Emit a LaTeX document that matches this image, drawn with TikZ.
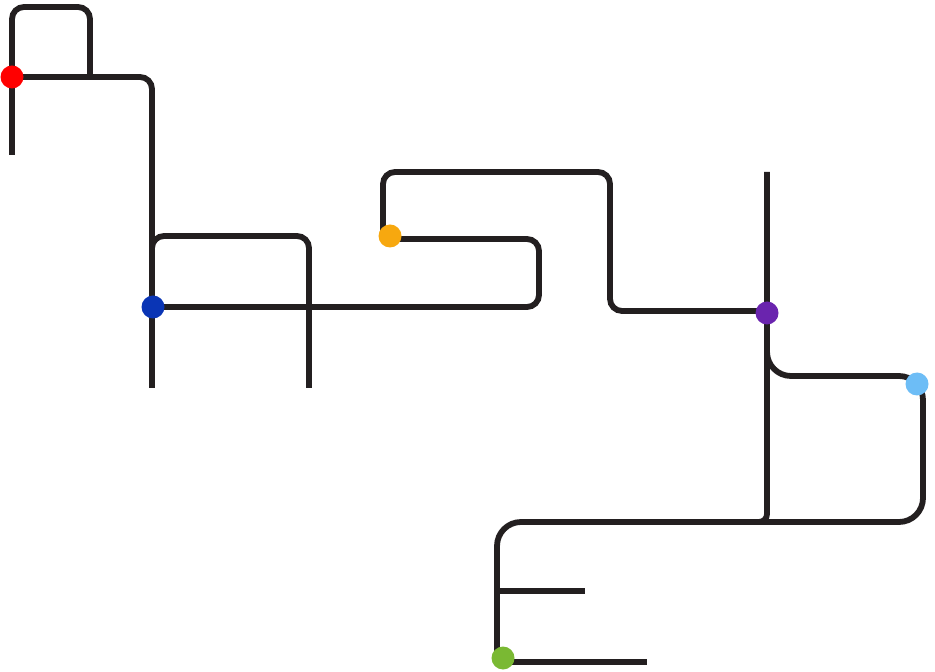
\documentclass[tikz,border=0pt]{standalone}
\usepackage{tikz}
\definecolor{ink}{HTML}{231F20}
\definecolor{stopred}{HTML}{FF0000}
\definecolor{stopblue}{HTML}{0A35B5}
\definecolor{stoporange}{HTML}{F7A80F}
\definecolor{stoppurple}{HTML}{6A24AE}
\definecolor{stopsky}{HTML}{6DBDF6}
\definecolor{stopgreen}{HTML}{7AB933}
\tikzset{
  track/.style={draw=ink, line width=2.9pt, rounded corners=6pt},
  stop/.style={circle, inner sep=0pt, minimum size=11.5pt, draw=none}
}
\begin{document}
\begin{tikzpicture}[x=0.5pt,y=-0.5pt]
  \useasboundingbox (0,0) rectangle (935,672);
  % Top-left loop
  \draw[track] (12,155) -- (12,7) -- (90,7) -- (90,77);
  \draw[track] (12,77) -- (152,77) -- (152,388);
  % Middle arch
  \draw[track] (152,262) -- (152,236) -- (309,236) -- (309,388);
  % S-curve through the centre
  \draw[track] (152,307) -- (539,307) -- (539,239) -- (390,239);
  \draw[track] (383,232) -- (383,172) -- (610,172) -- (610,311) -- (767,311);
  % Right-hand branch
  \draw[track, rounded corners=4pt] (767,172) -- (767,522) -- (745,522);
  \draw[track, rounded corners=12pt] (767,350) -- (767,376) -- (923,376)
    -- (923,522) -- (497,522) -- (497,660);
  \draw[track] (497,591) -- (585,591);
  \draw[track] (503,662) -- (647,662);
  % Stops
  \node[stop, fill=stopred] (red) at (12,77) {};
  \node[stop, fill=stopblue] (blue) at (153,307) {};
  \node[stop, fill=stoporange] (orange) at (390,236) {};
  \node[stop, fill=stoppurple] (purple) at (767,313) {};
  \node[stop, fill=stopsky] (sky) at (917,384) {};
  \node[stop, fill=stopgreen] (green) at (503,658) {};
\end{tikzpicture}
\end{document}
